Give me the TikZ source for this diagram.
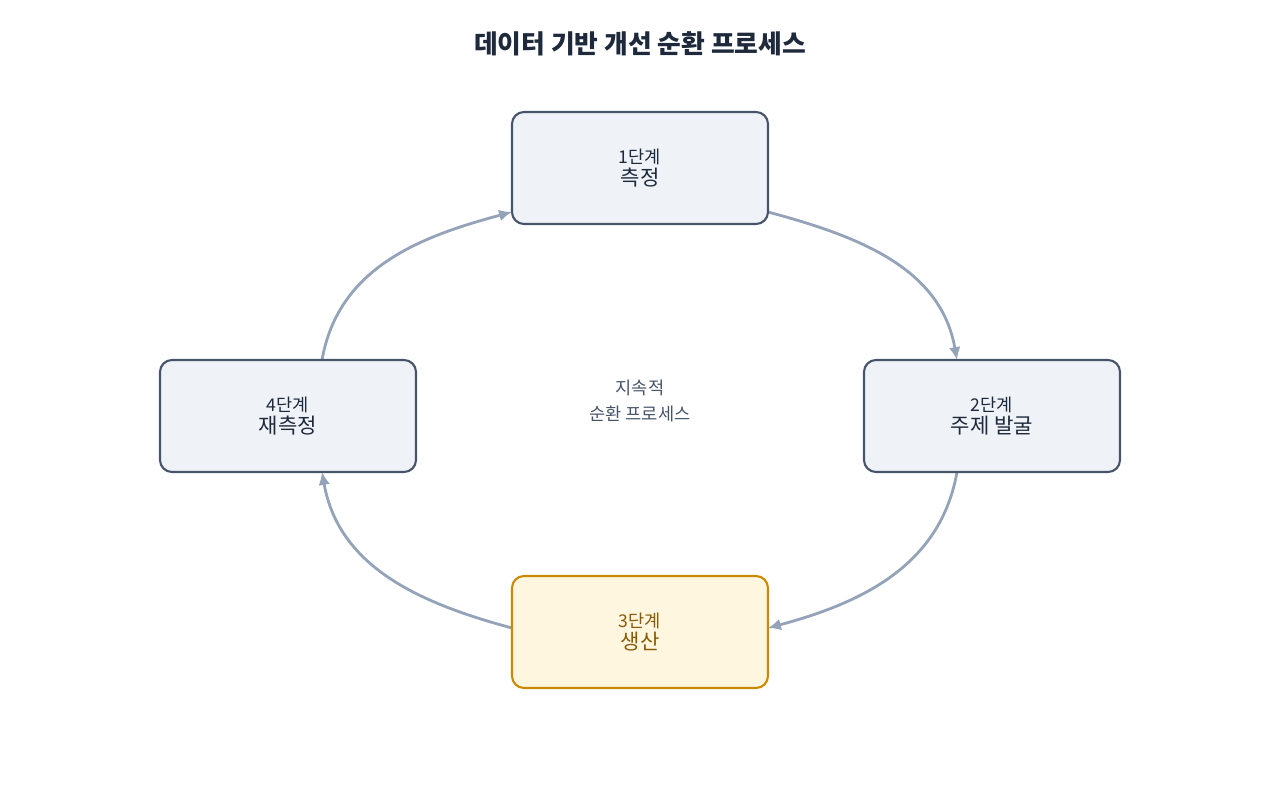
\documentclass[tikz,border=0pt]{standalone}
\usepackage{fontspec}
\setmainfont{Noto Sans CJK KR}
\usetikzlibrary{arrows.meta,calc}
\definecolor{boxfill}{HTML}{EFF3F8}
\definecolor{boxline}{HTML}{475569}
\definecolor{hifill}{HTML}{FEF6DF}
\definecolor{hiline}{HTML}{CA8A04}
\definecolor{hitext}{HTML}{8A5A03}
\definecolor{arc}{HTML}{94A3B8}
\definecolor{titlec}{HTML}{1E293B}
\begin{document}
\begin{tikzpicture}
			[x=0.03cm,y=0.03cm,
			stage/.style={rectangle,rounded corners=12*0.03cm,draw=boxline,line width=1.8pt,fill=boxfill,minimum width=7.68cm,minimum height=3.36cm,align=center,text=titlec},
			hi/.style={stage,draw=hiline,fill=hifill,text=hitext},
			cyc/.style={draw=arc,line width=2.4pt,-{Latex[length=11pt,width=10pt]}}]
			\useasboundingbox (0,0) rectangle (1280,800);
			\node[font=\fontsize{22}{26}\selectfont\bfseries,text=titlec,name=title] at (640,756) {데이터 기반 개선 순환 프로세스};
			\node[font=\fontsize{15}{22}\selectfont,text=boxline,align=center,name=mid] at (640,399) {지속적\\순환 프로세스};
			\coordinate (a1) at (322,440);
			\coordinate (a2) at (512,588);
			\coordinate (b1) at (768,588);
			\coordinate (b2) at (957,440);
			\coordinate (c1) at (957,328);
			\coordinate (c2) at (768,172);
			\coordinate (d1) at (512,172);
			\coordinate (d2) at (322,328);
			\draw[cyc](a1) to[out=80,in=195] (a2);
			\draw[cyc](b1) to[out=-15,in=100] (b2);
			\draw[cyc](c1) to[out=-100,in=15] (c2);
			\draw[cyc](d1) to[out=165,in=-80] (d2);
			\node[stage,name=s1] at (640,632) {\fontsize{15}{20}\selectfont 1단계\\[2pt]\fontsize{18}{22}\selectfont 측정};
			\node[stage,name=s2] at (992,384) {\fontsize{15}{20}\selectfont 2단계\\[2pt]\fontsize{18}{22}\selectfont 주제 발굴};
			\node[hi,name=s3] at (640,168) {\fontsize{15}{20}\selectfont 3단계\\[2pt]\fontsize{18}{22}\selectfont 생산};
			\node[stage,name=s4] at (288,384) {\fontsize{15}{20}\selectfont 4단계\\[2pt]\fontsize{18}{22}\selectfont 재측정};
		\end{tikzpicture}
\end{document}
